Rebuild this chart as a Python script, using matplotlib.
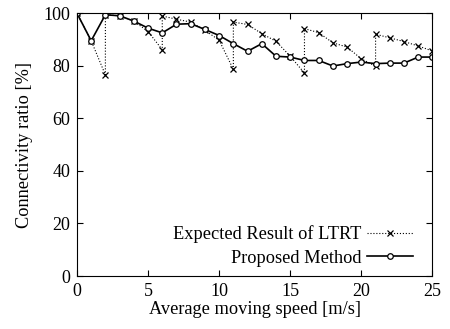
import numpy as np
import matplotlib.pyplot as plt

plt.rcParams['font.family'] = ['Liberation Serif', 'DejaVu Serif']

# Proposed method: one value per speed 0..25
speed = list(range(26))
proposed = [100, 89.5, 99.4, 99, 97, 94.3, 92.5, 95.8, 96, 93.8, 91.5, 88.4, 85.5,
            88.4, 83.6, 83.3, 82, 82, 79.9, 80.8, 81.4, 80.8, 81, 81, 83.3, 83.3]

# LTRT: repeated x where the curve jumps back up (vertical segment)
ltrt_x = [0, 1, 2, 2, 3, 4, 5, 6, 6, 7, 8, 9, 10, 11, 11, 12, 13, 14, 15, 16, 16,
          17, 18, 19, 20, 21, 21, 22, 23, 24, 25]
ltrt_y = [100, 89.5, 76.5, 99.4, 99, 97, 93, 86.1, 98.9, 97.7, 96.6, 93.5, 89.7, 78.6, 96.6,
          95.7, 92.2, 89.3, 83.6, 77.2, 94.1, 92.6, 88.7, 87.1, 82.6, 79.8, 92, 90.6, 89.2,
          87.5, 85.6]

fig = plt.figure(figsize=(4.5, 3.29), dpi=100)
ax = fig.add_axes([0.171, 0.161, 0.790, 0.799])

ax.plot(ltrt_x, ltrt_y, linestyle=':', color='black', linewidth=0.8, marker='x',
        markersize=4, markeredgewidth=0.9, label='Expected Result of LTRT')
ax.plot(speed, proposed, linestyle='-', color='black', linewidth=1.2, marker='o',
        markersize=4, markerfacecolor='white', markeredgewidth=0.9, label='Proposed Method')

ax.set_xlim(0, 25)
ax.set_ylim(0, 100)
ax.set_xticks(range(0, 26, 5))
ax.set_yticks(range(0, 101, 20))
ax.tick_params(direction='in', top=True, right=True, labelsize=13, length=4, pad=5)
ax.set_xlabel('Average moving speed [m/s]', fontsize=13.2, labelpad=1)
ax.set_ylabel('Connectivity ratio [%]', fontsize=13.2, labelpad=7)

ax.legend(loc='lower right', bbox_to_anchor=(0.966, 0.008), frameon=False,
          markerfirst=False, fontsize=13.2, handlelength=2.5, handletextpad=0.3,
          labelspacing=0.35, borderaxespad=0)

fig.savefig('out.png', dpi=100)
